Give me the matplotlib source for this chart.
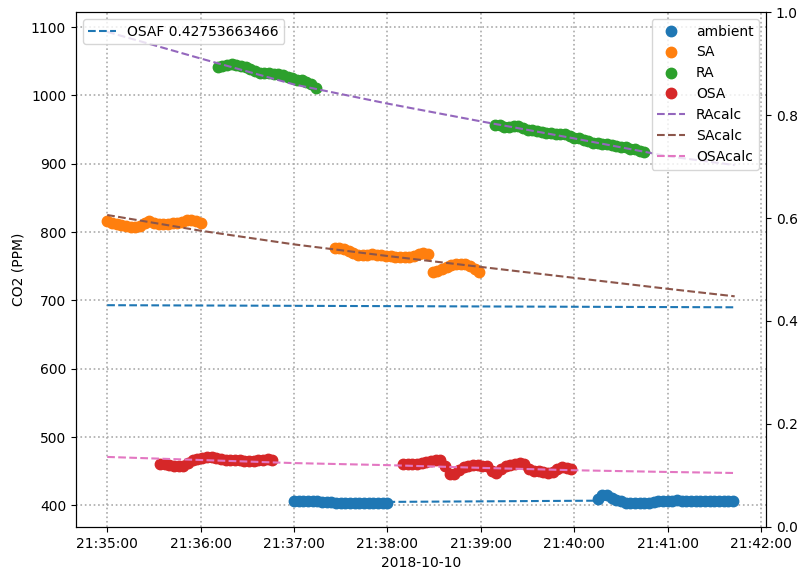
import numpy as np
import pandas as pd
import matplotlib
matplotlib.use("Agg")
import matplotlib.pyplot as plt
import matplotlib.dates as mdates

start = pd.Timestamp("2018-10-10 21:35:00")

# measured CO2 (ppm), sampled every 3 s; times are seconds after 21:35:00
sa1_t = np.arange(0, 61, 3)
sa1_v = [816, 814, 812, 810, 809, 808, 808, 809, 813, 816, 814, 812, 812, 812,
         813, 813, 815, 817, 818, 816, 813]
sa2_t = np.arange(146, 240, 3)
sa2_v = [776, 776, 775, 773, 769, 767, 766, 767, 768, 767, 766, 765, 765, 764,
         763, 763, 764, 765, 768, 770, 768, 742, 743, 746, 749, 752, 753, 754,
         753, 751, 746, 741]

ra1_t = np.arange(71, 135, 3)
ra1_v = [1041, 1043, 1045, 1046, 1045, 1043, 1041, 1038, 1035, 1033, 1033, 1033,
         1032, 1032, 1030, 1027, 1025, 1023, 1022, 1020, 1017, 1011]
ra2_t = np.arange(249, 346, 3)
ra2_v = [957, 956, 954, 954, 955, 955, 953, 950, 949, 948, 946, 945, 945, 944,
         943, 943, 941, 938, 937, 935, 933, 931, 930, 929, 929, 928, 926, 925,
         924, 922, 921, 919, 917]

osa1_t = np.arange(34, 107, 3)
osa1_v = [461, 460, 459, 458, 457, 458, 462, 466, 468, 470, 471, 471, 470, 468,
          467, 467, 466, 466, 465, 465, 465, 466, 467, 468, 466]
osa2_t = np.arange(190, 299, 3)
osa2_v = [460, 461, 461, 461, 462, 463, 465, 466, 466, 458, 446, 446, 452, 456,
          458, 459, 459, 458, 457, 450, 447, 454, 457, 459, 461, 462, 460, 454,
          451, 450, 449, 448, 449, 454, 456, 455, 453]

amb1_t = np.arange(120, 181, 3)
amb1_v = [406, 406, 406, 406, 406, 406, 405.5, 405, 404.5, 404, 403.5, 403.5,
          403.5, 403.5, 403.5, 403.5, 403.5, 403.5, 403.5, 404, 404]
amb2_t = np.arange(315, 403, 3)
amb2_v = [409, 415, 415, 411, 408, 406, 404, 403.5, 403, 403, 403.5, 404, 405,
          406, 406.5, 407, 407, 407.5, 407, 407, 406.5, 406, 406, 406, 406, 406,
          406, 406, 406, 406.5]

# calculated curves
calc_t = [0, 60, 120, 180, 240, 300, 360, 403]
ra_calc = [1093, 1054, 1016, 988, 962, 937, 911, 898]
sa_calc = [825, 802, 782, 765, 749, 733, 717, 706]
osa_calc = [471, 466.5, 462, 459, 455, 451.5, 449, 447.5]
amb_calc_t = [180, 315]
amb_calc = [405.2, 407]
osaf_t = [0, 403]
osaf_v = [0.4307, 0.4266]
osaf_label = "OSAF 0.42753663466"


def tt(sec):
    return start + pd.to_timedelta(np.asarray(sec), unit="s")


fig = plt.figure(figsize=(7.98, 5.72), dpi=100)
ax = fig.add_axes([0.095, 0.0787, 0.865, 0.9003])

ms = 7.5
ax.plot(tt(amb1_t), amb1_v, "o", color="C0", ms=ms, label="ambient")
ax.plot(tt(amb2_t), amb2_v, "o", color="C0", ms=ms)
ax.plot(tt(sa1_t), sa1_v, "o", color="C1", ms=ms, label="SA")
ax.plot(tt(sa2_t), sa2_v, "o", color="C1", ms=ms)
ax.plot(tt(ra1_t), ra1_v, "o", color="C2", ms=ms, label="RA")
ax.plot(tt(ra2_t), ra2_v, "o", color="C2", ms=ms)
ax.plot(tt(osa1_t), osa1_v, "o", color="C3", ms=ms, label="OSA")
ax.plot(tt(osa2_t), osa2_v, "o", color="C3", ms=ms)

ax.plot(tt(calc_t), ra_calc, "--", color="C4", label="RAcalc")
ax.plot(tt(calc_t), sa_calc, "--", color="C5", label="SAcalc")
ax.plot(tt(calc_t), osa_calc, "--", color="C6", label="OSAcalc")
ax.plot(tt(amb_calc_t), amb_calc, "--", color="C0")

ax.set_ylim(368.5, 1122)
ax.set_ylabel("CO2 (PPM)")
ax.set_xlabel("2018-10-10")
ax.xaxis.set_major_locator(mdates.MinuteLocator())
ax.xaxis.set_major_formatter(mdates.DateFormatter("%H:%M:%S"))
ax.grid(True, linestyle=":", linewidth=1.2, color="#aaaaaa")
ax.legend(loc="upper right")

ax2 = ax.twinx()
ax2.plot(tt(osaf_t), osaf_v, "--", color="C0", label=osaf_label)
ax2.set_ylim(0, 1)
ax2.legend(loc="upper left")

plt.savefig("out.png", dpi=100)
